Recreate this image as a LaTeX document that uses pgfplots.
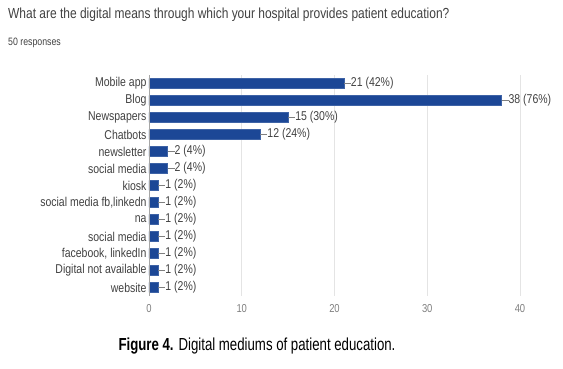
\documentclass[border=0pt]{standalone}
\usepackage{pgfplots}
\pgfplotsset{compat=1.18}
\usepackage{fontspec}
\setmainfont{Liberation Sans}[FakeStretch=0.82]
\newfontfamily\capfont{Liberation Sans}[FakeStretch=0.76]
\definecolor{barblue}{RGB}{28,71,150}
\definecolor{txt}{RGB}{65,65,65}
\definecolor{gridc}{RGB}{228,228,228}
\begin{document}
\begin{tikzpicture}[x=1pt,y=1pt]
\useasboundingbox (-149,-73) rectangle (414,296);
\begin{axis}[
  at={(0,0)}, anchor=south west, scale only axis,
  width=371pt, height=221pt,
  xbar, bar width=10pt,
  xmin=0, xmax=40, ymin=-0.5, ymax=12.5,
  xtick={0,10,20,30,40},
  ytick={0,...,12},
  yticklabels={website, Digital not available, {facebook, linkedIn}, social media, na, {social media fb,linkedn}, kiosk, social media, newsletter, Chatbots, Newspapers, Blog, Mobile app},
  axis line style={draw=none},
  major tick length=0pt,
  xmajorgrids, grid style={gridc, line width=0.6pt},
  /pgf/number format/assume math mode=true,
  yticklabel style={font=\fontsize{12.8}{13}\selectfont, text=txt, xshift=1pt},
  xticklabel style={font=\fontsize{11.5}{12}\selectfont, text=gray, yshift=-5pt},
  point meta=explicit symbolic,
  nodes near coords={\textcolor{gray}{\rule[0.55ex]{7pt}{0.5pt}}\pgfplotspointmeta},
  nodes near coords style={anchor=west, inner xsep=0pt, xshift=0pt, font=\fontsize{12.8}{13}\selectfont, text=txt},
  clip=false,
]
\addplot[fill=barblue, draw=barblue!85!white] coordinates {
  (1,0) [1 (2\%)]
  (1,1) [1 (2\%)]
  (1,2) [1 (2\%)]
  (1,3) [1 (2\%)]
  (1,4) [1 (2\%)]
  (1,5) [1 (2\%)]
  (1,6) [1 (2\%)]
  (2,7) [2 (4\%)]
  (2,8) [2 (4\%)]
  (12,9) [12 (24\%)]
  (15,10) [15 (30\%)]
  (38,11) [38 (76\%)]
  (21,12) [21 (42\%)]
};
\draw[gray!70, line width=0.8pt] (axis cs:0,-0.5) -- (axis cs:0,12.5);
\end{axis}
\node[anchor=base west, inner sep=0pt, font=\fontsize{14.6}{16}\selectfont, text=txt] at (-141,277) {What are the digital means through which your hospital provides patient education?};
\node[anchor=base west, inner sep=0pt, font=\fontsize{10.7}{12}\selectfont, text=txt] at (-141,250) {50 responses};
\node[anchor=base, inner sep=0pt, font=\capfont\fontsize{17.4}{18}\selectfont] at (108,-55) {\textbf{Figure 4.} Digital mediums of patient education.};
\end{tikzpicture}
\end{document}
